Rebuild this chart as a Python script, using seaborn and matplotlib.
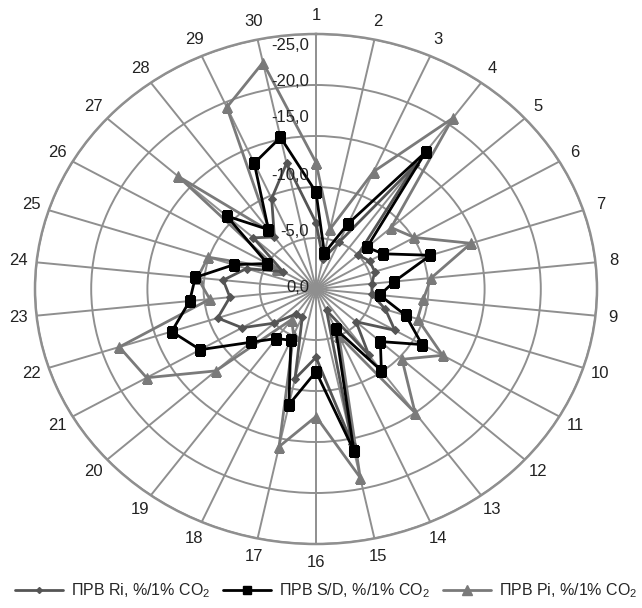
import numpy as np
import pandas as pd
import matplotlib
matplotlib.use("Agg")
import matplotlib.pyplot as plt
import matplotlib.transforms as mtransforms
import seaborn as sns

categories = [str(i) for i in range(1, 31)]

ri_values = [-6.5, -3.0, -5.0, -15.0, -5.0, -5.5, -5.5, -5.0, -5.0, -6.5,
             -8.1, -4.8, -8.0, -2.3, -15.5, -6.7, -9.0, -3.0, -3.0, -5.0,
             -7.6, -9.2, -7.7, -8.3, -6.5, -3.4, -7.5, -6.3, -9.7, -12.6]
sd_values = [-9.5, -3.6, -7.0, -16.6, -6.1, -6.9, -10.7, -7.0, -5.7, -8.4,
             -10.9, -7.7, -9.9, -4.3, -16.2, -8.1, -11.6, -5.5, -6.0, -7.8,
             -11.9, -13.5, -11.3, -10.8, -7.7, -5.0, -10.7, -7.2, -13.5, -15.2]
pi_values = [-12.4, -6.0, -12.6, -20.7, -9.0, -10.1, -14.5, -10.3, -9.6, -9.5,
             -13.0, -10.3, -15.0, -5.0, -18.9, -12.5, -15.8, -4.9, -3.7, -12.0,
             -17.4, -18.4, -9.5, -10.6, -10.1, -4.0, -16.5, -7.0, -19.5, -22.7]

series_names = ["ПРВ Ri, %/1% CO$_2$", "ПРВ S/D, %/1% CO$_2$", "ПРВ Pi, %/1% CO$_2$"]
radial_ticks = [0, -5, -10, -15, -20, -25]
radial_labels = ["0,0", "-5,0", "-10,0", "-15,0", "-20,0", "-25,0"]

sns.set_theme(style="white")
plt.rcParams['font.family'] = ['Liberation Sans', 'DejaVu Sans']
plt.rcParams['mathtext.fontset'] = 'custom'
plt.rcParams['mathtext.rm'] = 'Liberation Sans'
plt.rcParams['mathtext.it'] = 'Liberation Sans'

n = len(categories)
angles = np.linspace(0, 2 * np.pi, n, endpoint=False)

rows = []
for name, vals in zip(series_names, [ri_values, sd_values, pi_values]):
    for k in range(n + 1):
        i = k % n
        rows.append({"series": name, "theta": angles[i] if k < n else 2 * np.pi,
                     "r": -vals[i], "order": k})
df = pd.DataFrame(rows)

fig = plt.figure(figsize=(6.42, 6.08), dpi=100)
ax = fig.add_axes([35 / 642, 1 - 544 / 608, 562 / 642, 510 / 608], projection='polar')
ax.set_aspect('auto')
ax.set_theta_zero_location('N')
ax.set_theta_direction(-1)

styles = {
    series_names[0]: dict(color="#555555", marker="D", markersize=4, lw=2.0, zorder=4),
    series_names[1]: dict(color="#000000", marker="s", markersize=7, lw=2.0, zorder=5),
    series_names[2]: dict(color="#7a7a7a", marker="^", markersize=7.5, lw=2.0, zorder=3),
}

for name in [series_names[2], series_names[0], series_names[1]]:
    sub = df[df["series"] == name]
    st = styles[name]
    sns.lineplot(data=sub, x="theta", y="r", ax=ax, sort=False, estimator=None,
                 color=st["color"], marker=st["marker"], markersize=st["markersize"],
                 markeredgecolor=st["color"], linewidth=st["lw"], zorder=st["zorder"],
                 legend=False)

ax.set_ylim(0, 25)
ax.set_yticks([-t for t in radial_ticks[1:]])
ax.set_yticklabels([])
ax.set_xticks(angles)
ax.set_xticklabels(categories, fontsize=12, color="#222222")
ax.tick_params(axis='x', pad=0)
ax.grid(True, color="#8f8f8f", linewidth=1.4)
ax.spines['polar'].set_color("#8f8f8f")
ax.spines['polar'].set_linewidth(1.8)
ax.set_xlabel("")
ax.set_ylabel("")

label_dy = [1, 6, 11, 18, 4, -11]
for t, lab, dy in zip(radial_ticks, radial_labels, label_dy):
    off = mtransforms.offset_copy(ax.transData, fig=fig, x=-7, y=dy, units='dots')
    ax.text(0, -t, lab, transform=off, ha='right', va='center', fontsize=12,
            color="#222222", zorder=6)

handles = [plt.Line2D([], [], color=styles[nm]["color"], marker=styles[nm]["marker"],
                      markersize=styles[nm]["markersize"] - 1, lw=2) for nm in series_names]
fig.legend(handles, series_names, loc='center', bbox_to_anchor=(0.508, 1 - 591 / 608),
           ncol=3, frameon=False, fontsize=11.5, handlelength=3.0, columnspacing=0.8,
           handletextpad=0.5)

fig.savefig("out.png", dpi=100)
